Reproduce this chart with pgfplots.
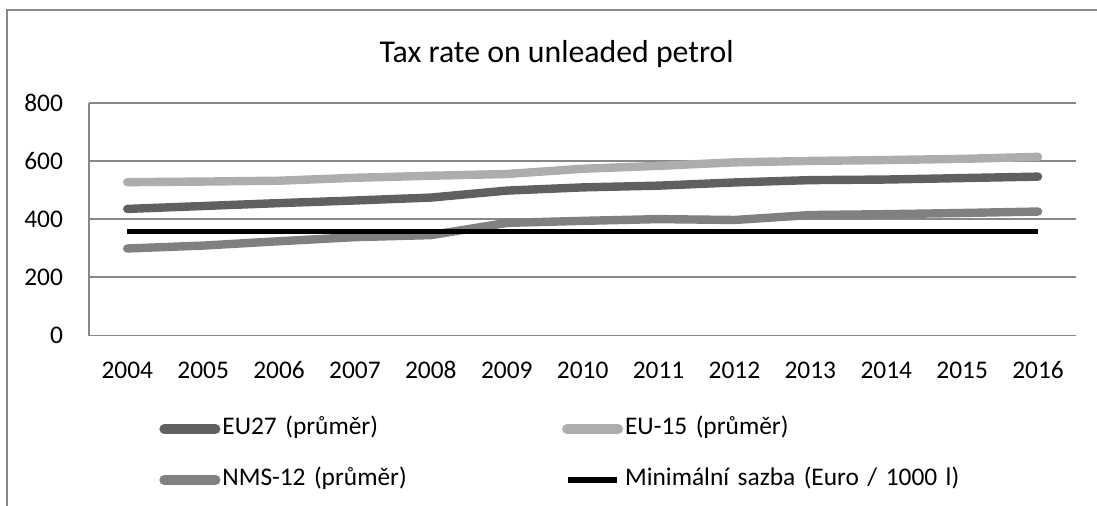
\documentclass[border=0pt]{standalone}
\usepackage{fontspec}
\setmainfont{Carlito}[Numbers={Lining,Monospaced}]
\usepackage{pgfplots}
\pgfplotsset{compat=1.18}

\definecolor{euall}{RGB}{96,96,96}
\definecolor{eufifteen}{RGB}{173,173,173}
\definecolor{nms}{RGB}{128,128,128}
\definecolor{gridgray}{RGB}{136,136,136}

\newcommand{\tickfont}{\fontsize{12.7}{15}\selectfont}

\begin{document}
\begin{tikzpicture}
\useasboundingbox (0,0) rectangle (548.5pt,252.5pt);
% chart frame (cut off at right and bottom)
\draw[gridgray, line width=1pt] (3.35pt,-2pt) -- (3.35pt,247.5pt) -- (552pt,247.5pt);
\node[anchor=base, font=\fontsize{15.9}{18}\selectfont] at (278.35pt,221.35pt) {Tax rate on unleaded petrol};

\begin{axis}[
  scale only axis,
  anchor=south west,
  at={(44.65pt,84.75pt)},
  width=493.35pt,
  height=116.4pt,
  xmin=2003.5, xmax=2016.5,
  ymin=0, ymax=800,
  xtick=data,
  ytick={0,200,400,600,800},
  major tick length=0pt,
  axis x line=bottom,
  axis y line=left,
  axis line style={gridgray, line width=0.85pt, -},
  ymajorgrids=true,
  grid style={gridgray, line width=0.85pt},
  /pgf/number format/assume math mode=true,
  /pgf/number format/1000 sep={},
  tick label style={font=\tickfont, inner sep=0pt},
  xticklabel style={anchor=base, yshift=-21.65pt},
  yticklabel style={anchor=east, xshift=-13pt},
  clip=false,
  legend columns=2,
  legend style={
    draw=none, fill=none, inner sep=0pt,
    at={(0.07064,-0.5111)}, anchor=west,
    font=\tickfont,
    row sep=13.5pt,
    cells={anchor=west},
    nodes={inner sep=0pt, text height=9pt, text depth=3pt, text width=169.85pt},
    /tikz/every odd column/.append style={column sep=1pt},
  },
]
\addplot[euall, line width=4.2pt, line cap=round, line join=round,
  legend image code/.code={\path[draw=none, fill=none] (0pt,-2.5pt) rectangle (30.5pt,2.5pt);
    \draw[euall, line width=5pt, line cap=round] (2.5pt,0pt) -- (28pt,0pt);}]
  coordinates {(2004,435)(2005,445)(2006,455)(2007,464)(2008,474)(2009,498)(2010,509)
               (2011,515)(2012,526)(2013,534)(2014,536)(2015,541)(2016,546)};
\addlegendentry{EU27 (průměr)}
\addplot[eufifteen, line width=4.2pt, line cap=round, line join=round,
  legend image code/.code={\path[draw=none, fill=none] (0pt,-2.5pt) rectangle (30.5pt,2.5pt);
    \draw[eufifteen, line width=5pt, line cap=round] (2.5pt,0pt) -- (28pt,0pt);}]
  coordinates {(2004,527)(2005,529)(2006,532)(2007,542)(2008,549)(2009,555)(2010,573)
               (2011,583)(2012,595)(2013,600)(2014,603)(2015,607)(2016,614)};
\addlegendentry{EU-15 (průměr)}
\addplot[nms, line width=4.2pt, line cap=round, line join=round,
  legend image code/.code={\path[draw=none, fill=none] (0pt,-2.5pt) rectangle (30.5pt,2.5pt);
    \draw[nms, line width=5pt, line cap=round] (2.5pt,0pt) -- (28pt,0pt);}]
  coordinates {(2004,299)(2005,309)(2006,324)(2007,338)(2008,345)(2009,387)(2010,394)
               (2011,400)(2012,397)(2013,414)(2014,417)(2015,421)(2016,426)};
\addlegendentry{NMS-12 (průměr)}
\addplot[black, line width=2.5pt, line cap=butt,
  legend image code/.code={\path[draw=none, fill=none] (0pt,-2.5pt) rectangle (30.5pt,2.5pt);
    \draw[black, line width=3pt, line cap=butt] (3pt,0pt) -- (27.5pt,0pt);}]
  coordinates {(2004,359)(2005,359)(2006,359)(2007,359)(2008,359)(2009,359)(2010,359)
               (2011,359)(2012,359)(2013,359)(2014,359)(2015,359)(2016,359)};
\addlegendentry{Minimální sazba (Euro / 1000 l)}
\end{axis}
\end{tikzpicture}
\end{document}
